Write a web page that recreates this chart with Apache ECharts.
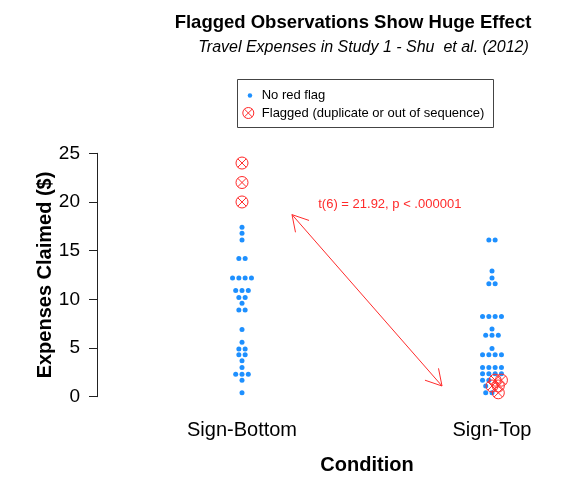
<!DOCTYPE html>
<html>
<head>
<meta charset="utf-8">
<script src="https://cdn.jsdelivr.net/npm/echarts@6/dist/echarts.min.js"></script>
<style>
  html, body { margin: 0; padding: 0; background: #fff; }
  #chart { width: 580px; height: 500px; }
</style>
</head>
<body>
<div id="chart"></div>
<script>
// 分组名称（x 轴标签）
const conditions = ['Sign-Bottom', 'Sign-Top'];
// Sign-Bottom 组：未被标记的报销金额
const bottomNoFlag = [17.4, 16.8, 16.1, 14.2, 14.2, 12.2, 12.2, 12.2, 12.2, 10.9, 10.9, 10.9,
  10.2, 10.2, 9.6, 8.9, 8.9, 6.9, 5.6, 4.9, 4.9, 4.3, 4.3, 3.7, 3.0, 2.3, 2.3, 2.3, 1.7, 0.4];
// Sign-Bottom 组：被标记的观测值（重复或顺序异常）
const bottomFlagged = [24, 22, 20];
// Sign-Top 组：未被标记的报销金额
const topNoFlag = [16.1, 16.1, 12.9, 12.2, 11.6, 11.6, 8.25, 8.25, 8.25, 8.25, 6.95, 6.3, 6.3, 6.3,
  4.96, 4.3, 4.3, 4.3, 4.3, 3.0, 3.0, 3.0, 3.0, 2.36, 2.36, 2.36, 2.36, 1.7, 1.7, 1.1, 0.4, 0.4];
// Sign-Top 组：被标记的观测值
const topFlagged = [1.7, 1.7, 1.1, 1.1, 0.4];
// y 轴刻度
const yTicks = [0, 5, 10, 15, 20, 25];
// 双向箭头的两端（数据坐标）与检验结果文字
const arrowFrom = [1.2, 18.7];
const arrowTo = [1.8, 1.1];
const testLabel = 't(6) = 21.92, p < .000001';
const testLabelAt = [1.305, 19.7];

const FONT = '"Liberation Sans", Arial, Helvetica, sans-serif';
// 同一行中相邻点的水平间距（x 轴单位）
const SPACING = 0.0252;
const BLUE = '#1E90FF';
const RED = '#FF2B2B';
// 圆圈加叉的标记（类似 R 的 pch 13）
const CROSS_CIRCLE = 'path://M0,-10A10,10,0,1,1,0,10A10,10,0,1,1,0,-10Z' +
  'M-7.07,-7.07L7.07,7.07M7.07,-7.07L-7.07,7.07';

/**
 * 简单的蜂群排列：相同数值的点放在同一行并居中排开
 */
function swarm(groupIndex, okValues, flagValues) {
  const rows = new Map();
  okValues.forEach(v => {
    if (!rows.has(v)) rows.set(v, []);
    rows.get(v).push(false);
  });
  flagValues.forEach(v => {
    if (!rows.has(v)) rows.set(v, []);
    rows.get(v).push(true);
  });
  const ok = [];
  const flagged = [];
  rows.forEach((flags, v) => {
    const n = flags.length;
    flags.forEach((isFlag, i) => {
      const x = groupIndex + 1 + (i - (n - 1) / 2) * SPACING;
      (isFlag ? flagged : ok).push([x, v]);
    });
  });
  return { ok, flagged };
}

const bottomPts = swarm(0, bottomNoFlag, bottomFlagged);
const topPts = swarm(1, topNoFlag, topFlagged);

const chart = echarts.init(document.getElementById('chart'));

const option = {
  animation: false,
  backgroundColor: '#fff',
  textStyle: { fontFamily: FONT },
  grid: {
    left: 97, right: -57, top: 153.3, bottom: 103.3,
    outerBoundsMode: 'none'
  },
  graphic: [
    {
      type: 'text', x: 353, y: 23,
      style: {
        text: 'Flagged Observations Show Huge Effect', fill: '#000',
        font: 'bold 18.5px ' + FONT, textAlign: 'center', textVerticalAlign: 'middle'
      }
    },
    {
      type: 'text', x: 363.5, y: 47.5,
      style: {
        text: 'Travel Expenses in Study 1 - Shu  et al. (2012)', fill: '#000',
        font: 'italic 16px ' + FONT, textAlign: 'center', textVerticalAlign: 'middle'
      }
    },
    {
      type: 'rect', shape: { x: 237.5, y: 79.5, width: 256, height: 48 },
      style: { fill: 'none', stroke: '#444', lineWidth: 1 }
    }
  ],
  legend: [
    {
      data: ['No red flag'], orient: 'vertical', left: 247.7, top: 89, padding: 0,
      itemWidth: 4.5, itemHeight: 4.5, selectedMode: false,
      textStyle: { fontSize: 13, color: '#000', padding: [0, 0, 0, 4.5] }
    },
    {
      data: [{
        name: 'Flagged (duplicate or out of sequence)',
        icon: CROSS_CIRCLE,
        itemStyle: { color: 'transparent', borderColor: RED, borderWidth: 1 }
      }],
      orient: 'vertical', left: 242.3, top: 106.5, padding: 0,
      itemWidth: 11, itemHeight: 11, selectedMode: false,
      itemStyle: { color: 'transparent', borderColor: RED, borderWidth: 1 },
      textStyle: { fontSize: 13, color: '#000', padding: [0, 0, 0, 3] }
    }
  ],
  xAxis: {
    type: 'value', min: 0.42, max: 2.58,
    axisLine: { show: false }, axisTick: { show: false }, splitLine: { show: false },
    axisLabel: {
      customValues: [1, 2],
      formatter: v => conditions[Math.round(v) - 1],
      fontSize: 20, color: '#000', margin: 24
    },
    name: 'Condition', nameLocation: 'middle', nameGap: 59, nameMoveOverlap: false,
    nameTextStyle: { fontSize: 20, fontWeight: 'bold', color: '#000' }
  },
  yAxis: {
    type: 'value', min: yTicks[0], max: yTicks[yTicks.length - 1], interval: 5,
    axisLine: { show: true, lineStyle: { color: '#222', width: 1 } },
    axisTick: { show: true, length: 8, lineStyle: { color: '#222' } },
    splitLine: { show: false },
    axisLabel: { fontSize: 19, color: '#000', margin: 17 },
    name: 'Expenses Claimed ($)', nameLocation: 'middle', nameGap: 42, nameMoveOverlap: false,
    nameTextStyle: { fontSize: 20, fontWeight: 'bold', color: '#000' }
  },
  series: [
    {
      name: 'No red flag', type: 'scatter',
      symbol: 'circle', symbolSize: 5,
      itemStyle: { color: BLUE, opacity: 1 },
      emphasis: { disabled: true },
      data: bottomPts.ok.concat(topPts.ok)
    },
    {
      name: 'Flagged (duplicate or out of sequence)', type: 'scatter',
      symbol: CROSS_CIRCLE, symbolSize: 12,
      itemStyle: { color: 'none', borderColor: RED, borderWidth: 1, opacity: 1 },
      emphasis: { disabled: true },
      data: bottomPts.flagged.concat(topPts.flagged)
    },
    {
      // 双向箭头和 t 检验文字
      type: 'custom', silent: true,
      data: [[arrowFrom[0], arrowFrom[1], arrowTo[0], arrowTo[1]]],
      renderItem: function (params, api) {
        const p1 = api.coord([api.value(0), api.value(1)]);
        const p2 = api.coord([api.value(2), api.value(3)]);
        const style = { stroke: RED, lineWidth: 1 };
        const headLen = 18;
        const heads = [];
        [[p1, p2], [p2, p1]].forEach(([tip, from]) => {
          const ang = Math.atan2(from[1] - tip[1], from[0] - tip[0]);
          [-Math.PI / 6, Math.PI / 6].forEach(d => {
            heads.push({
              type: 'line',
              shape: {
                x1: tip[0], y1: tip[1],
                x2: tip[0] + headLen * Math.cos(ang + d),
                y2: tip[1] + headLen * Math.sin(ang + d)
              },
              style
            });
          });
        });
        const tp = api.coord(testLabelAt);
        return {
          type: 'group',
          children: [
            { type: 'line', shape: { x1: p1[0], y1: p1[1], x2: p2[0], y2: p2[1] }, style }
          ].concat(heads).concat([{
            type: 'text', x: tp[0], y: tp[1],
            style: {
              text: testLabel, fill: RED, font: '13px ' + FONT,
              textAlign: 'left', textVerticalAlign: 'middle'
            }
          }])
        };
      }
    }
  ]
};

chart.setOption(option);
</script>
</body>
</html>
